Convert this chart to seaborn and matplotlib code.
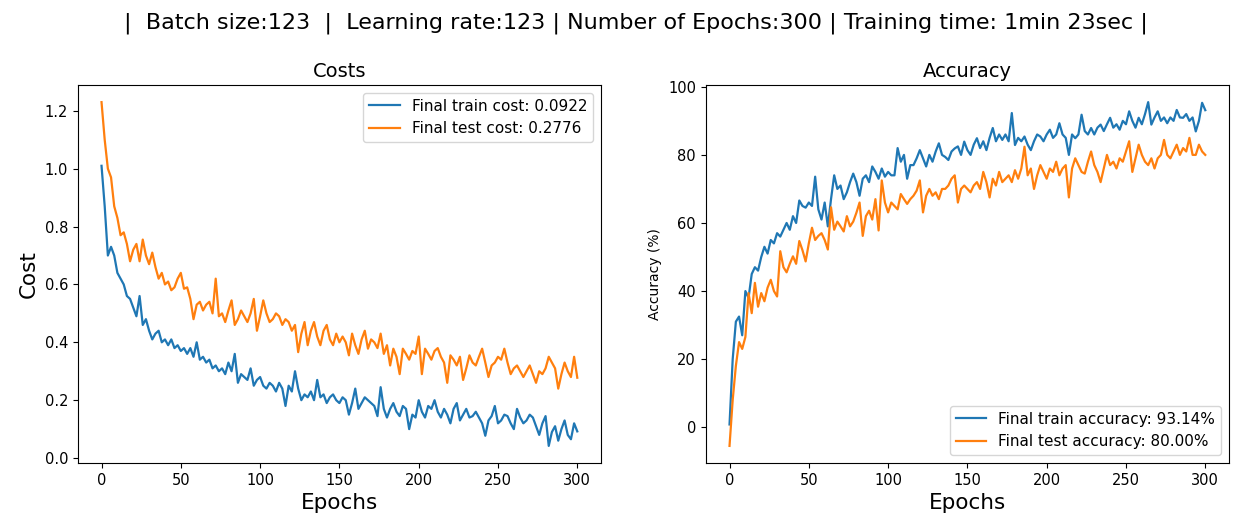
import matplotlib
matplotlib.use("Agg")
import matplotlib.pyplot as plt
import seaborn as sns

# Epochs (read every 2nd epoch from the picture)
epochs = list(range(0, 301, 2))

train_cost = [
    1.01, 0.87, 0.70, 0.73, 0.70, 0.64, 0.62, 0.60, 0.56, 0.55,
    0.52, 0.49, 0.56, 0.46, 0.48, 0.44, 0.41, 0.43, 0.44, 0.40,
    0.41, 0.39, 0.41, 0.38, 0.39, 0.37, 0.38, 0.36, 0.38, 0.35,
    0.40, 0.34, 0.35, 0.33, 0.34, 0.31, 0.32, 0.30, 0.31, 0.29,
    0.33, 0.30, 0.36, 0.26, 0.29, 0.28, 0.27, 0.31, 0.25, 0.27,
    0.28, 0.25, 0.24, 0.26, 0.25, 0.23, 0.26, 0.24, 0.18, 0.25,
    0.23, 0.30, 0.24, 0.20, 0.22, 0.21, 0.23, 0.20, 0.27, 0.21,
    0.22, 0.19, 0.21, 0.22, 0.20, 0.19, 0.21, 0.20, 0.15, 0.19,
    0.24, 0.17, 0.19, 0.21, 0.20, 0.19, 0.18, 0.145, 0.245, 0.17,
    0.14, 0.17, 0.19, 0.16, 0.145, 0.18, 0.17, 0.10, 0.15, 0.14,
    0.20, 0.16, 0.14, 0.18, 0.17, 0.20, 0.16, 0.14, 0.17, 0.15,
    0.12, 0.17, 0.19, 0.13, 0.15, 0.17, 0.14, 0.145, 0.16, 0.14,
    0.12, 0.077, 0.13, 0.145, 0.18, 0.12, 0.13, 0.15, 0.145, 0.12,
    0.10, 0.17, 0.14, 0.12, 0.13, 0.15, 0.14, 0.11, 0.08, 0.12,
    0.145, 0.042, 0.09, 0.11, 0.06, 0.10, 0.13, 0.08, 0.065, 0.12,
    0.0922,
]

test_cost = [
    1.23, 1.10, 1.00, 0.97, 0.87, 0.83, 0.77, 0.78, 0.74, 0.68,
    0.72, 0.74, 0.68, 0.755, 0.70, 0.67, 0.71, 0.66, 0.62, 0.64,
    0.60, 0.61, 0.58, 0.59, 0.62, 0.64, 0.585, 0.59, 0.55, 0.48,
    0.53, 0.54, 0.51, 0.53, 0.54, 0.50, 0.62, 0.49, 0.50, 0.47,
    0.51, 0.545, 0.46, 0.48, 0.51, 0.49, 0.47, 0.50, 0.55, 0.44,
    0.49, 0.545, 0.50, 0.47, 0.48, 0.50, 0.49, 0.46, 0.48, 0.47,
    0.44, 0.46, 0.366, 0.43, 0.47, 0.39, 0.44, 0.47, 0.42, 0.39,
    0.44, 0.46, 0.41, 0.39, 0.43, 0.40, 0.42, 0.40, 0.355, 0.43,
    0.39, 0.36, 0.41, 0.44, 0.378, 0.41, 0.40, 0.38, 0.43, 0.36,
    0.39, 0.32, 0.378, 0.35, 0.29, 0.378, 0.36, 0.34, 0.37, 0.36,
    0.42, 0.29, 0.378, 0.36, 0.34, 0.37, 0.38, 0.35, 0.33, 0.26,
    0.355, 0.34, 0.32, 0.35, 0.27, 0.31, 0.355, 0.33, 0.32, 0.35,
    0.378, 0.33, 0.28, 0.32, 0.33, 0.35, 0.34, 0.378, 0.33, 0.29,
    0.31, 0.32, 0.30, 0.28, 0.30, 0.32, 0.29, 0.26, 0.30, 0.29,
    0.31, 0.35, 0.33, 0.31, 0.24, 0.29, 0.33, 0.30, 0.28, 0.35,
    0.2776,
]

train_acc = [
    0.8, 20, 31, 32.5, 27, 40, 38, 45, 47, 46,
    50, 53, 51, 55, 54, 57, 56, 58, 60, 58,
    62, 60, 66.6, 65, 64.5, 66, 65, 73.6, 64, 61,
    66, 59, 67, 74, 70, 71, 67, 69, 72, 74.5,
    72, 68, 73, 74, 72, 76.6, 75, 73, 76, 73.6,
    75, 74, 74, 82, 78, 80, 73, 77, 77, 79,
    81.4, 79, 76.6, 80, 78, 81, 83.4, 80, 79.4, 78.5,
    81, 81.9, 82.5, 80, 83.9, 81.4, 80, 83, 84.9, 82,
    84, 81.4, 85, 87.9, 84, 86, 84.4, 86, 84, 92.3,
    82.9, 85, 84, 85.4, 83, 81.4, 84, 86, 85.4, 84,
    86, 87.4, 85, 86, 89.3, 86, 85, 80, 86, 84.9,
    86, 91.8, 87, 86, 87.9, 86, 88, 88.9, 87, 89,
    90.9, 88, 89, 87.4, 90, 89, 92.8, 90, 88, 90.9,
    89, 92, 95.5, 88.9, 91, 92.8, 90, 91, 89.3, 91,
    90, 93.2, 91, 90.9, 92, 90, 91, 86.9, 90, 95.3,
    93.14,
]

test_acc = [
    -5.5, 8, 18, 25, 23, 26.5, 39.4, 33.5, 42.4, 35.4,
    39.4, 37, 41, 43.3, 40, 38.4, 51.7, 47, 45.5, 48,
    50.2, 48, 54.7, 52, 48.7, 54, 58.6, 55, 56.2, 57,
    55, 52.2, 64.6, 58, 60.4, 59, 57.5, 62, 59, 60.4,
    63, 66, 56.2, 62, 63.6, 61, 67, 57.8, 72.5, 66,
    63.1, 66, 65, 64, 68.5, 67, 65.6, 67, 68, 69.5,
    72.5, 63.1, 68, 70, 68, 69, 67, 70, 70, 71,
    73, 74, 66, 70, 71, 70, 69, 71, 72, 70,
    75, 72, 67.5, 73, 71, 75, 72, 73, 74, 72,
    75.5, 73, 76, 82.4, 74, 76, 70, 74, 77, 75,
    73, 76, 75, 78, 74, 76, 77, 67.5, 76, 79,
    77, 75, 74.5, 78, 81, 77, 75, 72, 76, 80,
    77, 78, 76, 79, 78, 81, 84, 75, 79, 83,
    80, 78, 77, 79, 76, 79, 80, 84.4, 80, 79,
    81, 83, 80, 82, 81, 85, 80, 80, 83, 81,
    80.00,
]

batch_size = 123
learning_rate = 123
n_epochs = 300
train_time = "1min 23sec"

blue = "#1f77b4"
orange = "#ff7f0e"

plt.rcParams["xtick.labelsize"] = 10.5
plt.rcParams["ytick.labelsize"] = 10.5

fig, axes = plt.subplots(1, 2, figsize=(12.34, 5.18), dpi=100)
fig.subplots_adjust(left=0.063, right=0.996, bottom=0.106, top=0.836, wspace=0.2)

# Costs
ax = axes[0]
sns.lineplot(x=epochs, y=train_cost, color=blue, linewidth=1.6,
             label=f"Final train cost: {train_cost[-1]:.4f}", ax=ax)
sns.lineplot(x=epochs, y=test_cost, color=orange, linewidth=1.6,
             label=f"Final test cost: {test_cost[-1]:.4f}", ax=ax)
ax.set_title("Costs", fontsize=14)
ax.set_xlabel("Epochs", fontsize=15.5)
ax.set_ylabel("Cost", fontsize=15.5)
ax.set_xticks([0, 50, 100, 150, 200, 250, 300])
ax.legend(loc="upper right", fontsize=11)

# Accuracy
ax = axes[1]
sns.lineplot(x=epochs, y=train_acc, color=blue, linewidth=1.6,
             label=f"Final train accuracy: {train_acc[-1]:.2f}%", ax=ax)
sns.lineplot(x=epochs, y=test_acc, color=orange, linewidth=1.6,
             label=f"Final test accuracy: {test_acc[-1]:.2f}%", ax=ax)
ax.set_title("Accuracy", fontsize=14)
ax.set_xlabel("Epochs", fontsize=15.5)
ax.set_ylabel("Accuracy (%)", fontsize=10)
ax.set_xticks([0, 50, 100, 150, 200, 250, 300])
ax.set_yticks([0, 20, 40, 60, 80, 100])
ax.legend(loc="lower right", fontsize=11)

fig.suptitle(f"|  Batch size:{batch_size}  |  Learning rate:{learning_rate} | "
             f"Number of Epochs:{n_epochs} | Training time: {train_time} |",
             fontsize=16, x=0.515, y=0.975)

fig.savefig("out.png", dpi=100)
